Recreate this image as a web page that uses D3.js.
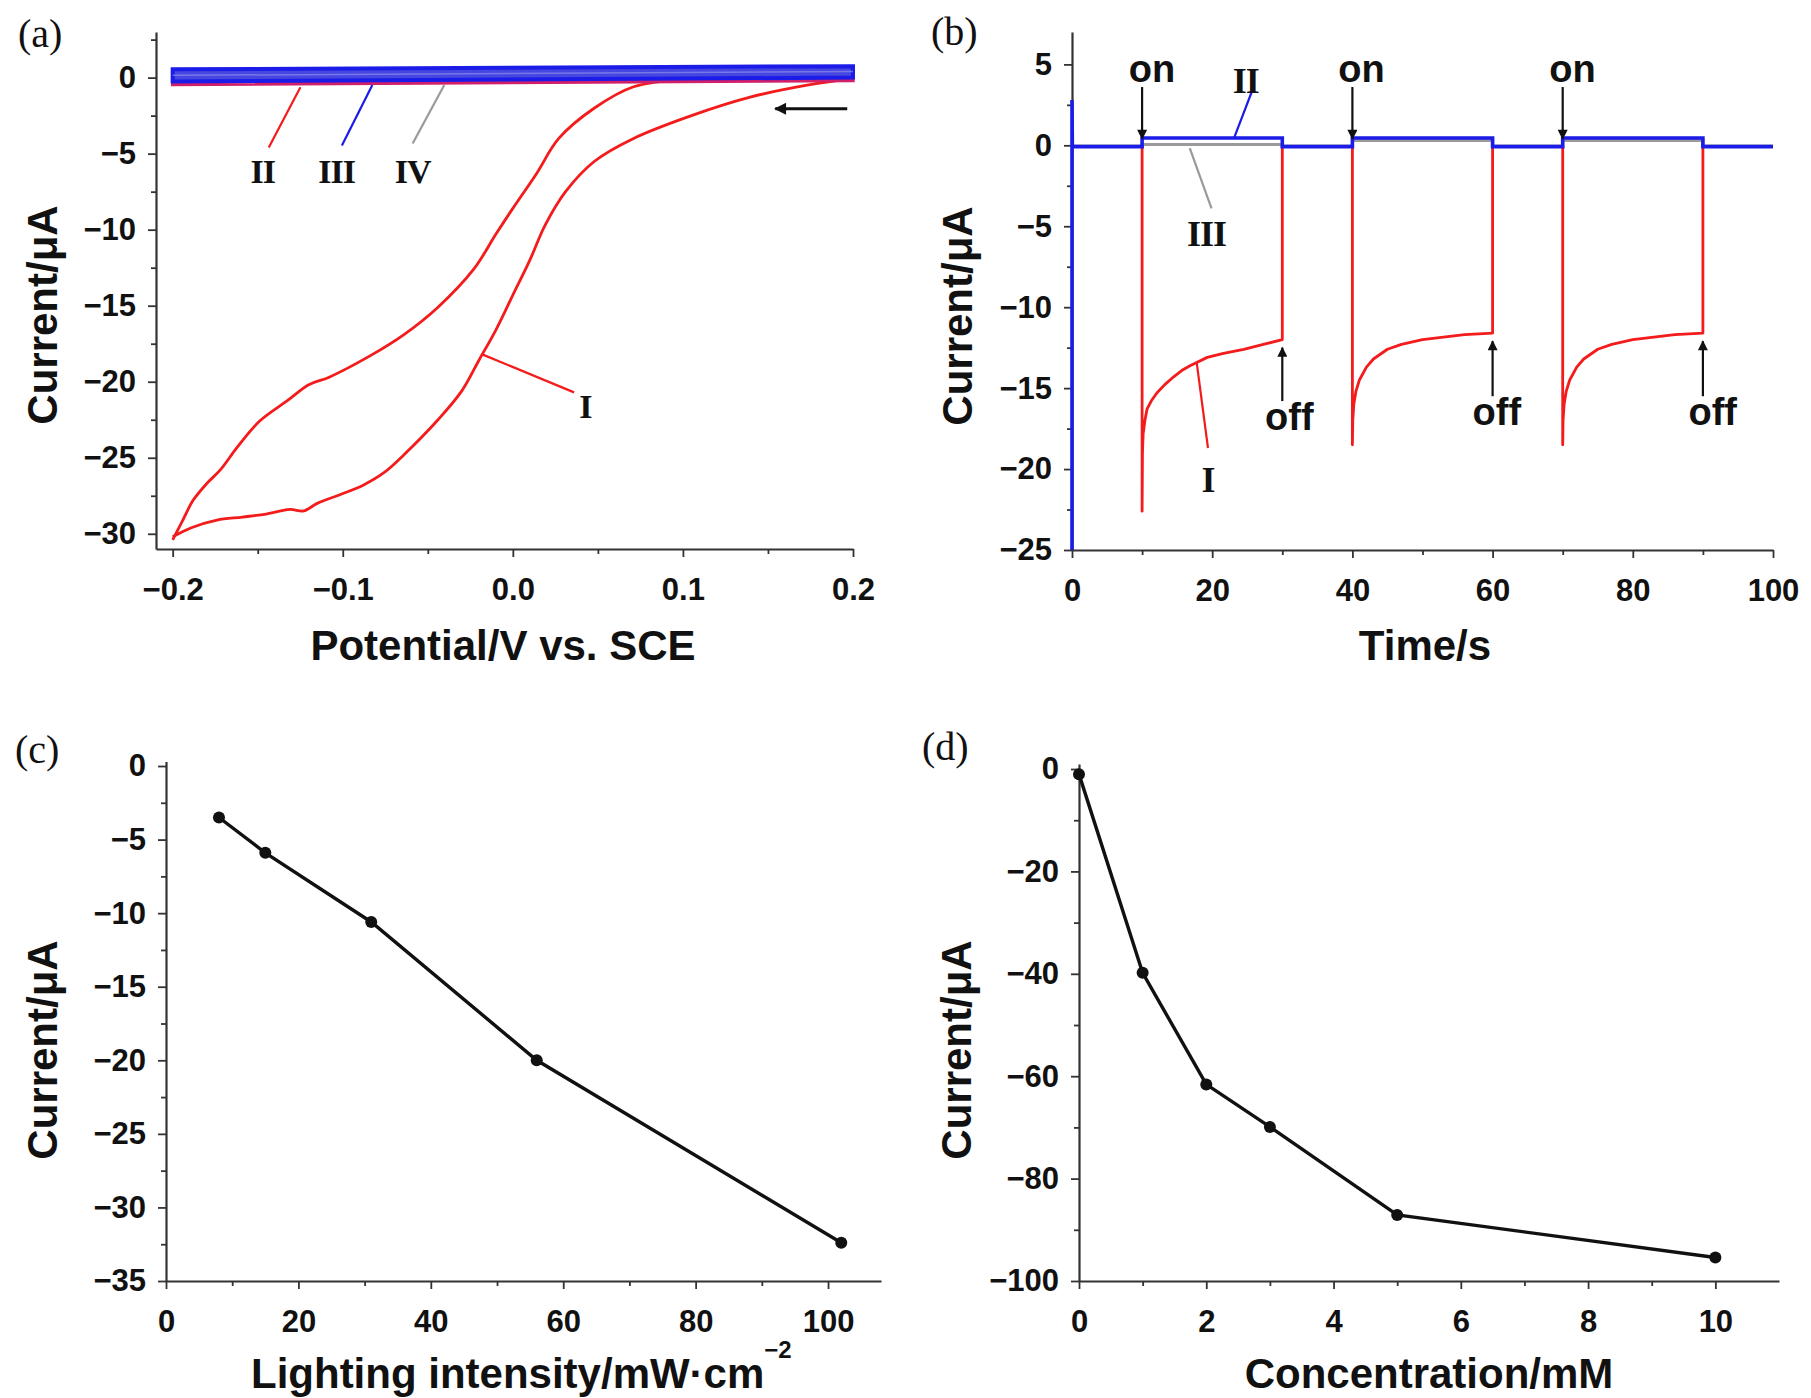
<!DOCTYPE html>
<html><head><meta charset="utf-8">
<script src="https://cdn.jsdelivr.net/npm/d3@7"></script>
<style>body{margin:0;background:#fff;} svg{display:block;}</style>
</head><body>
<script>
// ================= DATA =================
// (a) cyclic voltammograms [potential V, current µA]
const cvI_lower = [[0.2,-0.05],[0.173,-0.5],[0.139,-1.3],[0.105,-2.5],[0.071,-4.0],[0.048,-5.5],[0.031,-7.5],[0.019,-9.7],[0.010,-12.0],[0.0,-14.3],[-0.010,-16.6],[-0.020,-18.6],[-0.030,-20.6],[-0.044,-22.5],[-0.064,-24.8],[-0.076,-26.0],[-0.088,-26.8],[-0.101,-27.4],[-0.115,-28.0],[-0.123,-28.5],[-0.131,-28.4],[-0.145,-28.7],[-0.159,-28.9],[-0.174,-29.1],[-0.189,-29.6],[-0.2,-30.2]];
const cvI_upper = [[-0.2,-30.4],[-0.194,-29.1],[-0.188,-27.8],[-0.180,-26.7],[-0.172,-25.8],[-0.162,-24.3],[-0.149,-22.6],[-0.132,-21.2],[-0.120,-20.2],[-0.108,-19.7],[-0.084,-18.3],[-0.064,-16.9],[-0.044,-15.1],[-0.023,-12.6],[-0.010,-10.3],[0.0,-8.6],[0.014,-6.3],[0.027,-4.0],[0.048,-2.0],[0.071,-0.6],[0.105,-0.06],[0.139,0.0],[0.2,0.05]];
const cvII  = [[0.2,-0.2],[-0.2,-0.45],[-0.2,-0.3],[0.2,-0.1]];
const cvIII = [[0.2,0.0],[-0.2,-0.25],[-0.2,0.55],[0.2,0.75]];
const cvIV  = [[0.2,0.05],[-0.2,-0.1],[-0.2,0.1],[0.2,0.2]];
const aXTicks = [-0.2,-0.1,0.0,0.1,0.2], aXMinor = [-0.15,-0.05,0.05,0.15];
const aYTicks = [0,-5,-10,-15,-20,-25,-30], aYMinor = [2.5,-2.5,-7.5,-12.5,-17.5,-22.5,-27.5];
const aLabels = [{t:"II",x:-0.147,y:-6.9},{t:"III",x:-0.1036,y:-6.9},{t:"IV",x:-0.0589,y:-6.9},{t:"I",x:0.0426,y:-22.4}];
const aLeaders = [{c:"red",p:[[-0.1249,-0.63],[-0.1435,-4.6]]},{c:"blue",p:[[-0.0826,-0.48],[-0.1005,-4.47]]},{c:"gray",p:[[-0.0403,-0.48],[-0.0589,-4.33]]},{c:"red",p:[[-0.018,-18.2],[0.036,-20.7]]}];
const aArrow = [[0.1966,-2.05],[0.1543,-2.05]];

// (b) photocurrent vs time [s, µA]
const ptI = [[0,-0.08],[10,-0.08],[10,-22.6],[10.05,-19],[10.15,-17.8],[10.4,-17.0],[10.7,-16.3],[11.3,-15.8],[12.1,-15.3],[13.2,-14.8],[14.5,-14.3],[15.7,-13.9],[16.9,-13.6],[19.3,-13.1],[21.6,-12.85],[24.5,-12.6],[27.3,-12.3],[30,-12.0],[30,-0.08],[40,-0.08],
  [40,-18.5],[40.05,-17.0],[40.2,-16.0],[40.5,-15.2],[41,-14.5],[42,-13.7],[43,-13.2],[45,-12.6],[47,-12.3],[50,-12.0],[53,-11.85],[56,-11.7],[60,-11.6],[60,-0.08],[70,-0.08],
  [70,-18.5],[70.05,-17.0],[70.2,-16.0],[70.5,-15.2],[71,-14.5],[72,-13.7],[73,-13.2],[75,-12.6],[77,-12.3],[80,-12.0],[83,-11.85],[86,-11.7],[90,-11.6],[90,-0.08],[100,-0.08]];
const ptII = [[0,-25],[0,2.8],[0.05,-0.08],[10,-0.08],[10,0.45],[30,0.45],[30,-0.08],[40,-0.08],[40,0.45],[60,0.45],[60,-0.08],[70,-0.08],[70,0.45],[90,0.45],[90,-0.08],[100,-0.08]];
const ptIII = [[0,-0.05],[10,-0.05],[10,0.05],[30,0.05],[30,-0.05],[40,-0.05],[40,0.3],[60,0.3],[60,-0.05],[70,-0.05],[70,0.3],[90,0.3],[90,-0.05],[100,-0.05]];
const bXTicks = [0,20,40,60,80,100], bXMinor = [10,30,50,70,90];
const bYTicks = [5,0,-5,-10,-15,-20,-25], bYMinor = [2.5,-2.5,-7.5,-12.5,-17.5,-22.5];
const bOn  = [{t:11.4,y:3.9,ax:10},{t:41.3,y:3.9,ax:40},{t:71.4,y:3.9,ax:70}];
const bOff = [{t:31.0,y:-17.6,ax:30,y0:-15.8,y1:-12.5},{t:60.6,y:-17.3,ax:60,y0:-15.5,y1:-12.1},{t:91.4,y:-17.3,ax:90,y0:-15.5,y1:-12.1}];
const bLabels = [{t:"II",x:24.8,y:3.24},{t:"III",x:19.2,y:-6.25},{t:"I",x:19.4,y:-21.4}];
const bLeaders = [{c:"blue",p:[[25.7,3.37],[23.1,0.43]]},{c:"gray",p:[[16.8,-0.17],[19.9,-3.9]]},{c:"red",p:[[17.8,-13.46],[19.4,-18.7]]}];

// (c) current vs lighting intensity
const intensity = [8,15,31,56,102];
const currentC  = [-3.5,-5.9,-10.6,-20.0,-32.4];
const cXTicks = [0,20,40,60,80,100], cXMinor = [10,30,50,70,90];
const cYTicks = [0,-5,-10,-15,-20,-25,-30,-35], cYMinor = [-2.5,-7.5,-12.5,-17.5,-22.5,-27.5,-32.5];

// (d) current vs concentration
const concentration = [0,1,2,3,5,10];
const currentD = [-1.0,-39.8,-61.6,-69.9,-87.1,-95.4];
const dXTicks = [0,2,4,6,8,10], dXMinor = [1,3,5,7,9];
const dYTicks = [0,-20,-40,-60,-80,-100], dYMinor = [-10,-30,-50,-70,-90];

// ================= DRAWING =================
const COL = {red:"#f31b1b", blue:"#1c1ce8", gray:"#9a9a9a", black:"#111"};
const SANS = "'Liberation Sans', Arial, sans-serif";
const SERIF = "'Liberation Serif', 'Times New Roman', serif";
const svg = d3.select("body").append("svg").attr("width",1811).attr("height",1398);
svg.append("rect").attr("width",1811).attr("height",1398).attr("fill","#fff");
const defs = svg.append("defs");
function marker(id, w, h){
  defs.append("marker").attr("id",id).attr("viewBox","0 0 10 10").attr("refX",9).attr("refY",5)
    .attr("markerWidth",w).attr("markerHeight",h).attr("markerUnits","userSpaceOnUse").attr("orient","auto")
    .append("path").attr("d","M0,0 L10,5 L0,10 z").attr("fill",COL.black);
}
marker("bigArrow",24,12); marker("smallArrow",16,10);

function panel(o){
  const x = d3.scaleLinear().domain(o.xDom).range(o.xRange);
  const y = d3.scaleLinear().domain(o.yDom).range(o.yRange);
  const g = svg.append("g");
  const xb = o.yRange[0], yl = o.xRange[0];
  const style = s => {
    s.selectAll("line").attr("stroke","#333").attr("stroke-width",1.8);
    s.selectAll(".domain").attr("stroke","#333").attr("stroke-width",2.2);
    s.selectAll("text").attr("font-family",SANS).attr("font-weight","bold").attr("font-size",31).attr("fill","#111");
  };
  g.append("g").attr("transform",`translate(0,${xb})`).call(d3.axisBottom(x).tickValues(o.xMinor).tickSize(5).tickFormat(""))
    .call(s=>s.select(".domain").remove()).call(style);
  g.append("g").attr("transform",`translate(${yl},0)`).call(d3.axisLeft(y).tickValues(o.yMinor).tickSize(5).tickFormat(""))
    .call(s=>s.select(".domain").remove()).call(style);
  g.append("g").attr("transform",`translate(0,${xb})`).call(d3.axisBottom(x).tickValues(o.xTicks).tickSizeInner(8).tickSizeOuter(0).tickPadding(21).tickFormat(o.xFmt)).call(style);
  g.append("g").attr("transform",`translate(${yl},0)`).call(d3.axisLeft(y).tickValues(o.yTicks).tickSizeInner(8).tickSizeOuter(0).tickPadding(12).tickFormat(o.yFmt)).call(style);
  const plot = g.append("g");
  return {x,y,g:plot};
}
function title(txt, x, y, rot){
  const t = svg.append("text").attr("font-family",SANS).attr("font-weight","bold").attr("font-size",42).attr("fill","#111")
    .attr("text-anchor","middle");
  if(rot) t.attr("transform",`translate(${x},${y}) rotate(-90)`); else t.attr("x",x).attr("y",y);
  t.text(txt); return t;
}
function plabel(txt,x,y){
  svg.append("text").attr("x",x).attr("y",y).attr("font-family",SERIF).attr("font-size",40).attr("fill","#111").text(txt);
}
function roman(g, P, d, size){
  g.append("text").attr("x",P.x(d.x)).attr("y",P.y(d.y)).attr("text-anchor","middle").attr("font-family",SERIF)
    .attr("font-weight","bold").attr("font-size",size).attr("fill","#111").attr("letter-spacing",-1).text(d.t);
}
function leader(g, P, d){
  g.append("line").attr("x1",P.x(d.p[0][0])).attr("y1",P.y(d.p[0][1])).attr("x2",P.x(d.p[1][0])).attr("y2",P.y(d.p[1][1]))
    .attr("stroke",COL[d.c]).attr("stroke-width",2.2);
}

// ---- Panel (a)
const A = panel({xDom:[-0.2098,0.2], xRange:[156,853], yDom:[-31,3], yRange:[549,32],
  xTicks:aXTicks, xMinor:aXMinor, yTicks:aYTicks, yMinor:aYMinor, xFmt:d3.format(".1f"), yFmt:d3.format("d")});
const lineA = d3.line().x(d=>A.x(d[0])).y(d=>A.y(d[1]));
const smoothA = d3.line().x(d=>A.x(d[0])).y(d=>A.y(d[1])).curve(d3.curveCatmullRom.alpha(0.5));
A.g.append("path").attr("d",smoothA(cvI_lower)).attr("fill","none").attr("stroke",COL.red).attr("stroke-width",2.8).attr("stroke-linejoin","round");
A.g.append("path").attr("d",smoothA(cvI_upper)).attr("fill","none").attr("stroke",COL.red).attr("stroke-width",2.8).attr("stroke-linejoin","round");
A.g.append("path").attr("d",lineA(cvIV)+"Z").attr("fill","none").attr("stroke",COL.gray).attr("stroke-width",3);
A.g.append("path").attr("d",lineA(cvII)+"Z").attr("fill","none").attr("stroke","#d0206a").attr("stroke-width",3.4);
A.g.append("path").attr("d",lineA(cvIII)+"Z").attr("fill","#4646e0").attr("stroke",COL.blue).attr("stroke-width",4);
A.g.append("path").attr("d",lineA([cvIII[1],cvIII[0]].map(d=>[d[0],d[1]+0.4]))).attr("fill","none").attr("stroke","#8c8cf0").attr("stroke-width",1.5).attr("stroke-opacity",0.7);
aLeaders.forEach(d=>leader(A.g,A,d));
aLabels.forEach(d=>roman(A.g,A,d,34));
A.g.append("line").attr("x1",A.x(aArrow[0][0])).attr("y1",A.y(aArrow[0][1])).attr("x2",A.x(aArrow[1][0])).attr("y2",A.y(aArrow[1][1]))
  .attr("stroke",COL.black).attr("stroke-width",3).attr("marker-end","url(#bigArrow)");
title("Potential/V vs. SCE", 503, 660);
title("Current/μA", 57, 315, true);
plabel("(a)", 18, 47);

// ---- Panel (b)
const B = panel({xDom:[0,100], xRange:[1072,1773], yDom:[-25,7], yRange:[550,32],
  xTicks:bXTicks, xMinor:bXMinor, yTicks:bYTicks, yMinor:bYMinor, xFmt:d3.format("d"), yFmt:d3.format("d")});
const lineB = d3.line().x(d=>B.x(d[0])).y(d=>B.y(d[1]));
B.g.append("path").attr("d",lineB(ptI)).attr("fill","none").attr("stroke",COL.red).attr("stroke-width",2.8).attr("stroke-linejoin","round");
B.g.append("path").attr("d",lineB(ptIII)).attr("fill","none").attr("stroke",COL.gray).attr("stroke-width",3);
B.g.append("path").attr("d",lineB(ptII)).attr("fill","none").attr("stroke",COL.blue).attr("stroke-width",3.6);
bLeaders.forEach(d=>leader(B.g,B,d));
bLabels.forEach(d=>roman(B.g,B,d,36));
bOn.forEach(d=>{
  B.g.append("text").attr("x",B.x(d.t)).attr("y",B.y(d.y)).attr("text-anchor","middle").attr("font-family",SANS).attr("font-weight","bold").attr("font-size",38).attr("fill","#111").text("on");
  B.g.append("line").attr("x1",B.x(d.ax)).attr("y1",B.y(3.6)).attr("x2",B.x(d.ax)).attr("y2",B.y(0.4))
    .attr("stroke",COL.black).attr("stroke-width",2.2).attr("marker-end","url(#smallArrow)");
});
bOff.forEach(d=>{
  B.g.append("text").attr("x",B.x(d.t)).attr("y",B.y(d.y)).attr("text-anchor","middle").attr("font-family",SANS).attr("font-weight","bold").attr("font-size",38).attr("fill","#111").text("off");
  B.g.append("line").attr("x1",B.x(d.ax)).attr("y1",B.y(d.y0)).attr("x2",B.x(d.ax)).attr("y2",B.y(d.y1))
    .attr("stroke",COL.black).attr("stroke-width",2.2).attr("marker-end","url(#smallArrow)");
});
title("Time/s", 1425, 660);
title("Current/μA", 972, 316, true);
plabel("(b)", 931, 45);

// ---- Panel (c)
const C = panel({xDom:[0,108], xRange:[166,881], yDom:[-35,0.3], yRange:[1281,761.6],
  xTicks:cXTicks, xMinor:cXMinor, yTicks:cYTicks, yMinor:cYMinor, xFmt:d3.format("d"), yFmt:d3.format("d")});
const dataC = intensity.map((v,i)=>[v,currentC[i]]);
C.g.append("path").attr("d",d3.line().x(d=>C.x(d[0])).y(d=>C.y(d[1]))(dataC)).attr("fill","none").attr("stroke",COL.black).attr("stroke-width",3.4);
C.g.selectAll("circle").data(dataC).join("circle").attr("cx",d=>C.x(d[0])).attr("cy",d=>C.y(d[1])).attr("r",6).attr("fill",COL.black);
const tc = svg.append("text").attr("x",251).attr("y",1388).attr("font-family",SANS).attr("font-weight","bold").attr("font-size",42).attr("fill","#111");
tc.append("tspan").text("Lighting intensity/mW·cm");
tc.append("tspan").attr("font-size",24).attr("dy",-30).text("−2");
title("Current/μA", 57, 1050, true);
plabel("(c)", 15, 763);

// ---- Panel (d)
const D = panel({xDom:[0,11], xRange:[1079,1779], yDom:[-100,1], yRange:[1281,763.9],
  xTicks:dXTicks, xMinor:dXMinor, yTicks:dYTicks, yMinor:dYMinor, xFmt:d3.format("d"), yFmt:d3.format("d")});
const dataD = concentration.map((v,i)=>[v,currentD[i]]);
D.g.append("path").attr("d",d3.line().x(d=>D.x(d[0])).y(d=>D.y(d[1]))(dataD)).attr("fill","none").attr("stroke",COL.black).attr("stroke-width",3.4);
D.g.selectAll("circle").data(dataD).join("circle").attr("cx",d=>D.x(d[0])).attr("cy",d=>D.y(d[1])).attr("r",6).attr("fill",COL.black);
title("Concentration/mM", 1429, 1388);
title("Current/μA", 971, 1050, true);
plabel("(d)", 922, 760);
</script>
</body></html>
